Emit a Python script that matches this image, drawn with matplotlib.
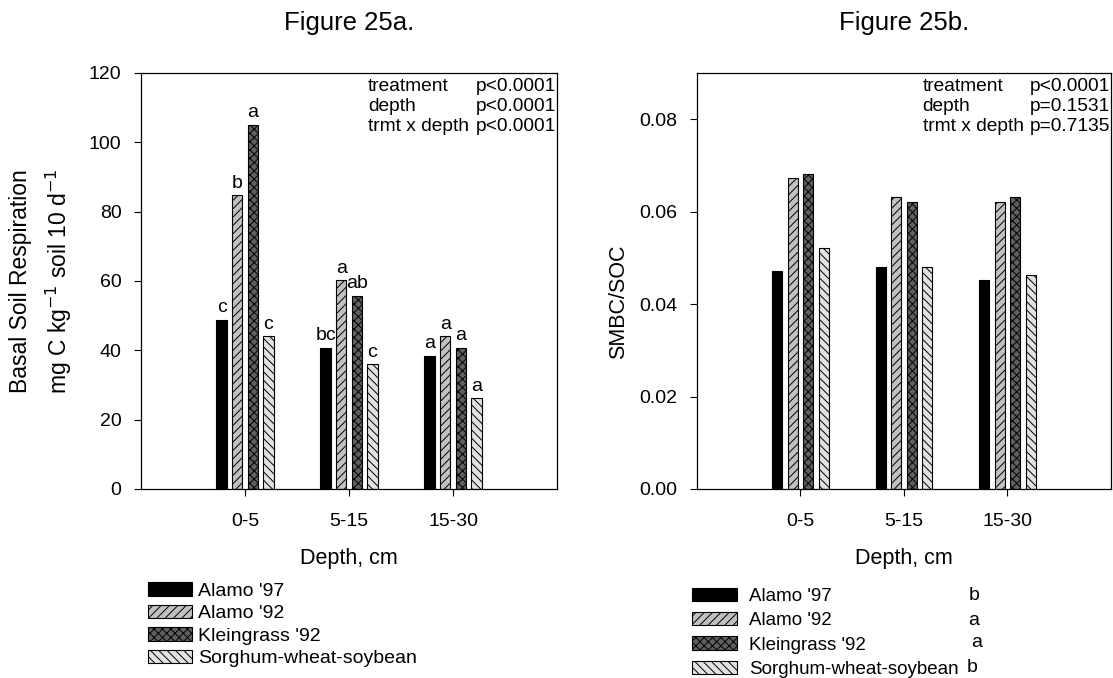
import matplotlib
matplotlib.use('Agg')
import matplotlib.pyplot as plt
import numpy as np

plt.rcParams['font.family'] = ['Liberation Sans', 'DejaVu Sans']
plt.rcParams['hatch.linewidth'] = 0.7

# data
depths = ['0-5', '5-15', '15-30']
treatments = ["Alamo '97", "Alamo '92", "Kleingrass '92", "Sorghum-wheat-soybean"]

resp = {
    "Alamo '97": [48.8, 40.7, 38.4],
    "Alamo '92": [84.7, 60.2, 44.1],
    "Kleingrass '92": [105.1, 55.7, 40.7],
    "Sorghum-wheat-soybean": [44.0, 36.0, 26.2],
}
resp_letters = {
    "Alamo '97": ['c', 'bc', 'a'],
    "Alamo '92": ['b', 'a', 'a'],
    "Kleingrass '92": ['a', 'ab', 'a'],
    "Sorghum-wheat-soybean": ['c', 'c', 'a'],
}
ratio = {
    "Alamo '97": [0.0472, 0.0481, 0.0452],
    "Alamo '92": [0.0672, 0.0631, 0.0621],
    "Kleingrass '92": [0.0681, 0.0621, 0.0631],
    "Sorghum-wheat-soybean": [0.0521, 0.0481, 0.0462],
}
ratio_letters = ['b', 'a', 'a', 'b']

stats_a = ['p<0.0001', 'p<0.0001', 'p<0.0001']
stats_b = ['p<0.0001', 'p=0.1531', 'p=0.7135']

# styles
fills = ['black', '#c0c0c0', '#606060', '#e2e2e2']
hatches = [None, '////', 'xxxx', '\\\\\\\\']

fig = plt.figure(figsize=(11.13, 6.78), dpi=100)
ax1 = fig.add_axes([0.1267, 0.2788, 0.3738, 0.6136])
ax2 = fig.add_axes([0.6262, 0.2788, 0.3720, 0.6136])

x = np.arange(1, len(depths) + 1)
offs = np.array([-1.5, -0.5, 0.5, 1.5]) * 0.15
w = 0.10


def draw(ax, data, letters=None):
    for i, t in enumerate(treatments):
        bars = ax.bar(x + offs[i], data[t], w, color=fills[i], hatch=hatches[i],
                      edgecolor='black', linewidth=0.8, label=t)
        if letters is not None:
            for b, lab in zip(bars, letters[t]):
                ax.text(b.get_x() + b.get_width() / 2, b.get_height() + 1.0, lab,
                        ha='center', va='bottom', fontsize=14)
    ax.set_xlim(0, 4)
    ax.set_xticks(x)
    ax.set_xticklabels(depths)
    ax.tick_params(direction='out', length=5, width=0.8, labelsize=14)
    ax.tick_params(axis='x', pad=12)
    ax.tick_params(axis='y', pad=9)
    for s in ax.spines.values():
        s.set_linewidth(0.9)
    ax.set_xlabel('Depth, cm', fontsize=15.5, labelpad=13)


def stats(ax, vals):
    ax.text(0.545, 0.987, 'treatment\ndepth\ntrmt x depth', transform=ax.transAxes,
            ha='left', va='top', fontsize=13.8, linespacing=1.2)
    ax.text(0.805, 0.987, '\n'.join(vals), transform=ax.transAxes,
            ha='left', va='top', fontsize=13.8, linespacing=1.2)


draw(ax1, resp, resp_letters)
ax1.set_ylim(0, 120)
ax1.set_yticks(np.arange(0, 121, 20))
stats(ax1, stats_a)
ax1.set_title('Figure 25a.', fontsize=18.5, pad=31)
ax1.text(-0.29, 0.5, 'Basal Soil Respiration', transform=ax1.transAxes, rotation=90,
         ha='center', va='center', fontsize=16.5)
ax1.text(-0.197, 0.5, 'mg C kg$^{-1}$ soil 10 d$^{-1}$', transform=ax1.transAxes,
         rotation=90, ha='center', va='center', fontsize=16.5)

draw(ax2, ratio)
ax2.set_ylim(0, 0.09)
ax2.set_yticks(np.arange(0, 0.081, 0.02))
ax2.set_yticklabels(['%.2f' % v for v in np.arange(0, 0.081, 0.02)])
stats(ax2, stats_b)
ax2.set_title('Figure 25b.', fontsize=18.5, pad=31)
ax2.set_ylabel('SMBC/SOC', fontsize=15.5)
ax2.yaxis.set_label_coords(-0.165, 0.45)

# legends
h1, l1 = ax1.get_legend_handles_labels()
ax1.legend(h1, l1, loc='upper left', bbox_to_anchor=(0.016, -0.224), frameon=False,
           fontsize=14, handlelength=2.3, handleheight=0.7, handletextpad=0.28,
           labelspacing=0.25, borderpad=0, borderaxespad=0)
h2, l2 = ax2.get_legend_handles_labels()
ax2.legend(h2, l2, loc='upper left', bbox_to_anchor=(-0.013, -0.237), frameon=False,
           fontsize=13.5, handlelength=2.4, handleheight=0.72, handletextpad=0.67,
           labelspacing=0.38, borderpad=0, borderaxespad=0)
letter_x = [0.657, 0.655, 0.662, 0.652]
letter_y = [-0.255, -0.315, -0.370, -0.428]
for lab, lx, ly in zip(ratio_letters, letter_x, letter_y):
    ax2.text(lx, ly, lab, transform=ax2.transAxes, ha='left', va='center', fontsize=14)

fig.savefig('out.png', dpi=100)
